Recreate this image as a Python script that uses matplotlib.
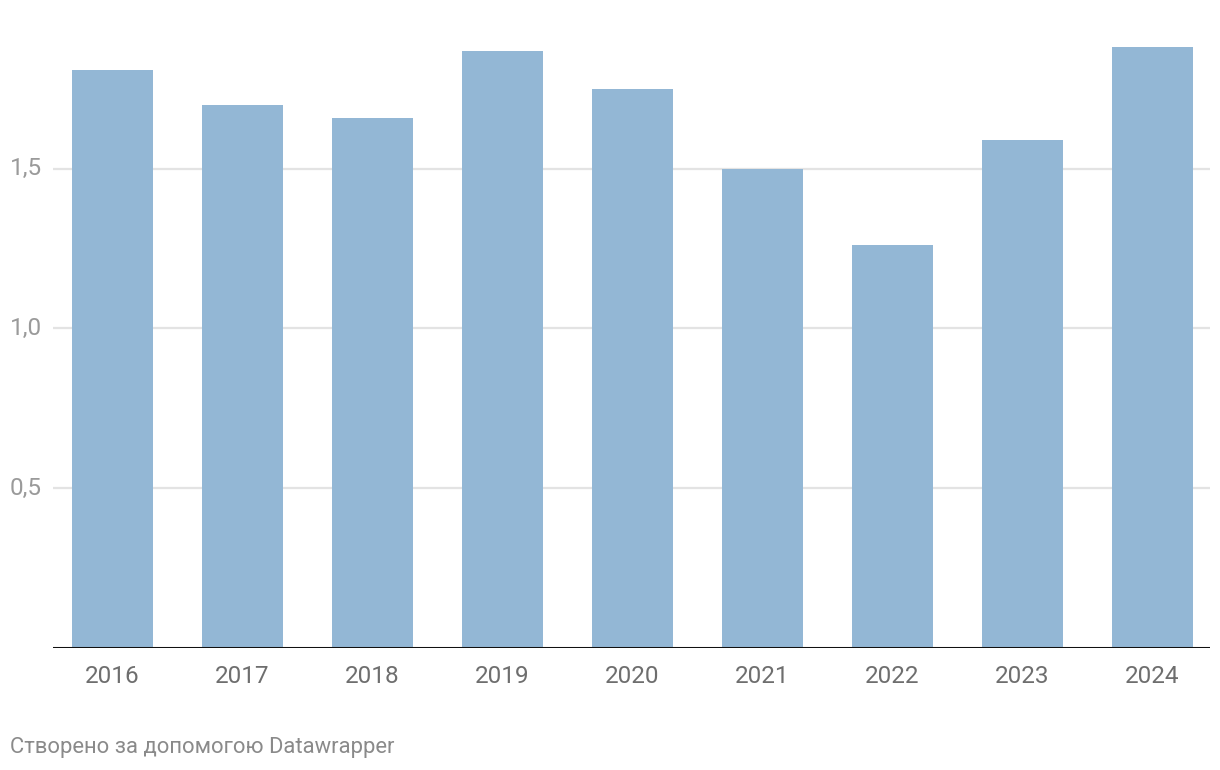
import matplotlib.pyplot as plt
import numpy as np

plt.rcParams['font.family'] = ['Roboto', 'DejaVu Sans']

years = ['2016', '2017', '2018', '2019', '2020', '2021', '2022', '2023', '2024']
values = [1.81, 1.70, 1.66, 1.87, 1.75, 1.50, 1.26, 1.59, 1.88]
yticks = [0.5, 1.0, 1.5]
ytick_labels = ['0,5', '1,0', '1,5']

fig = plt.figure(figsize=(12.2, 7.7), dpi=100)
ax = fig.add_axes([53 / 1220, 1 - 648 / 770, (1210 - 53) / 1220, 608 / 770])

x = np.arange(len(years))
ax.bar(x, values, width=81 / 130, color='#93b7d5', zorder=2)

ax.set_xlim(-0.454, 8.446)
ax.set_ylim(0, 608 / 319.5)

for t in yticks:
    ax.axhline(t, color='#e3e3e3', lw=1.6, zorder=1)
ax.axhline(0, color='#111111', lw=2.2, zorder=3)

for s in ax.spines.values():
    s.set_visible(False)
ax.set_yticks([])
ax.set_xticks(x)
ax.set_xticklabels(years, fontsize=17.5, color='#6e6e6e')
ax.tick_params(axis='x', length=0, pad=12)

# y labels sit left of the gridlines
for t, lab in zip(yticks, ytick_labels):
    ypix = 648 - t * 319.5
    fig.text(10 / 1220, 1 - ypix / 770, lab, ha='left', va='center',
             fontsize=17.5, color='#9a9a9a')

fig.text(10 / 1220, 1 - 747 / 770, 'Створено за допомогою Datawrapper',
         ha='left', va='center', fontsize=15.8, color='#8a8a8a')

fig.savefig('out.png', dpi=100)
